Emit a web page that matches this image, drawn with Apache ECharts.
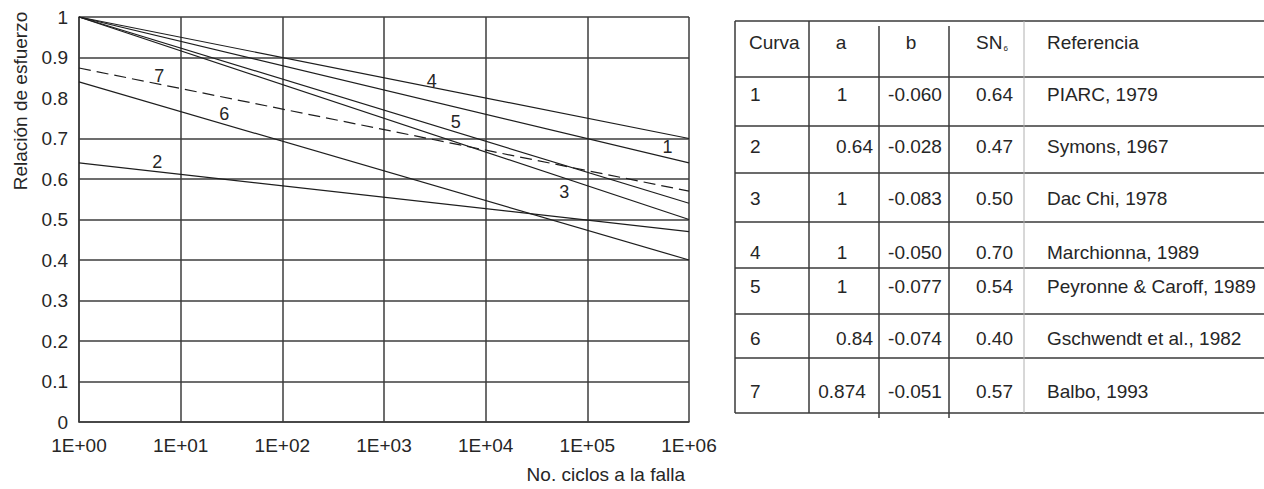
<!DOCTYPE html>
<html>
<head>
<meta charset="utf-8">
<script src="https://cdn.jsdelivr.net/npm/echarts@6/dist/echarts.min.js"></script>
<style>
  html, body { margin: 0; padding: 0; background: #fff; }
  #chart { width: 1264px; height: 489px; }
</style>
</head>
<body>
<div id="chart"></div>
<script>
// Fatigue curves: relación de esfuerzo = a + b·log10(N)
const curveIds = ['1', '2', '3', '4', '5', '6', '7'];
const colA = ['1', '0.64', '1', '1', '1', '0.84', '0.874'];
const colB = ['-0.060', '-0.028', '-0.083', '-0.050', '-0.077', '-0.074', '-0.051'];
const colSN6 = ['0.64', '0.47', '0.50', '0.70', '0.54', '0.40', '0.57'];
const references = [
  'PIARC, 1979', 'Symons, 1967', 'Dac Chi, 1978', 'Marchionna, 1989',
  'Peyronne & Caroff, 1989', 'Gschwendt et al., 1982', 'Balbo, 1993'
];
const cycleRange = [1, 1e6];
const xTickLabels = ['1E+00', '1E+01', '1E+02', '1E+03', '1E+04', '1E+05', '1E+06'];
const yTickLabels = ['0', '0.1', '0.2', '0.3', '0.4', '0.5', '0.6', '0.7', '0.8', '0.9', '1'];

// each curve runs from a (at 1 ciclo) to SN6 (at 1E+06 ciclos)
const startValue = colA.map(Number);
const endValue = colSN6.map(Number);

const FONT = "'Liberation Sans', Arial, sans-serif";
const INK = '#262626';
const GRID = '#3c3c3c';

// where each curve's number tag sits (cycles, relación)
const tagAt = {
  '1': [616000, 0.680],
  '2': [5.9, 0.642],
  '3': [59400, 0.567],
  '4': [2950, 0.843],
  '5': [5080, 0.741],
  '6': [26.8, 0.760],
  '7': [6.15, 0.855]
};

const series = curveIds.map((id, i) => ({
  type: 'line',
  name: id,
  data: [[cycleRange[0], startValue[i]], [cycleRange[1], endValue[i]]],
  symbol: 'none',
  silent: true,
  z: 5,
  lineStyle: {
    color: '#1e1e1e',
    width: 1.2,
    type: id === '7' ? [12, 6] : 'solid'
  },
  markPoint: {
    symbol: 'rect',
    symbolSize: 1,
    silent: true,
    itemStyle: { color: 'rgba(0,0,0,0)' },
    label: {
      show: true,
      position: 'inside',
      formatter: id,
      color: INK,
      fontFamily: FONT,
      fontSize: 18
    },
    data: [{ coord: tagAt[id], name: id }]
  }
}));

// ---- table on the right ----
const colX = [735, 809, 879, 949, 1024, 1264];
const rowY = [21, 77, 126, 173, 222, 268, 314, 358, 413];
const headerY = 42;
const rowTextY = [94, 146, 198, 252, 286, 338, 391];
const aAlign = ['center', 'right', 'center', 'center', 'center', 'right', 'center'];

const graphics = [];
const lineStyleDark = { stroke: '#3a3a3a', lineWidth: 1.5 };
function hLine(y, x1, x2, st) {
  graphics.push({ type: 'line', silent: true, shape: { x1: x1, y1: y, x2: x2, y2: y }, style: st });
}
function vLine(x, y1, y2, st) {
  graphics.push({ type: 'line', silent: true, shape: { x1: x, y1: y1, x2: x, y2: y2 }, style: st });
}
function txt(text, x, y, align, extra) {
  graphics.push({
    type: 'text', silent: true, x: x, y: y,
    style: Object.assign({
      text: text, fill: INK, font: '19px ' + FONT,
      textAlign: align, textVerticalAlign: 'middle'
    }, extra || {})
  });
}

rowY.forEach(y => hLine(y, colX[0], colX[5], lineStyleDark));
vLine(colX[0], rowY[0], rowY[8], lineStyleDark);
vLine(colX[1], rowY[0], rowY[8], lineStyleDark);
vLine(colX[2], 26, 418, lineStyleDark);
vLine(colX[3], 26, 418, lineStyleDark);
vLine(colX[4], rowY[0], rowY[8], { stroke: '#b0b0b0', lineWidth: 1 });

txt('Curva', 749, headerY, 'left');
txt('a', 841, headerY, 'center');
txt('b', 911, headerY, 'center');
graphics.push({
  type: 'text', silent: true, x: 976, y: headerY,
  style: {
    text: 'SN{s|6}', fill: INK, font: '19px ' + FONT,
    textAlign: 'left', textVerticalAlign: 'middle',
    rich: { s: { fontSize: 8, fontFamily: FONT, fill: INK, padding: [12, 0, 0, 1] } }
  }
});
txt('Referencia', 1047, headerY, 'left');

curveIds.forEach((id, i) => {
  const y = rowTextY[i];
  txt(id, 750, y, 'left');
  if (aAlign[i] === 'right') txt(colA[i], 873, y, 'right');
  else txt(colA[i], 842, y, 'center');
  txt(colB[i], 915, y, 'center');
  txt(colSN6[i], 976, y, 'left');
  txt(references[i], 1047, y, 'left');
});

// axis titles
graphics.push({
  type: 'text', silent: true, x: 20, y: 101, rotation: Math.PI / 2,
  style: { text: 'Relación de esfuerzo', fill: INK, font: '19px ' + FONT, textAlign: 'center', textVerticalAlign: 'middle' }
});
graphics.push({
  type: 'text', silent: true, x: 685, y: 474,
  style: { text: 'No. ciclos a la falla', fill: INK, font: '19px ' + FONT, textAlign: 'right', textVerticalAlign: 'middle' }
});

// no grid line at 0.8
const ySplitColors = yTickLabels.map(t => (t === '0.8' ? 'rgba(0,0,0,0)' : GRID));

const chart = echarts.init(document.getElementById('chart'), null, { renderer: 'svg' });
chart.setOption({
  animation: false,
  backgroundColor: '#ffffff',
  grid: { left: 79, right: 575, top: 17, bottom: 67, containLabel: false },
  xAxis: {
    type: 'log',
    logBase: 10,
    min: cycleRange[0],
    max: cycleRange[1],
    axisLine: { show: true, lineStyle: { color: GRID, width: 1.5 } },
    axisTick: { show: false },
    splitLine: { show: true, lineStyle: { color: GRID, width: 1.5 } },
    axisLabel: {
      color: INK, fontFamily: FONT, fontSize: 19, margin: 14,
      formatter: v => xTickLabels[Math.round(Math.log10(v))]
    }
  },
  yAxis: {
    type: 'value',
    min: 0,
    max: 1,
    interval: 0.1,
    axisLine: { show: true, lineStyle: { color: GRID, width: 1.5 } },
    axisTick: { show: false },
    splitLine: { show: true, lineStyle: { color: ySplitColors, width: 1.5 } },
    axisLabel: {
      color: INK, fontFamily: FONT, fontSize: 19, margin: 11,
      formatter: v => yTickLabels[Math.round(v * 10)]
    }
  },
  graphic: graphics,
  series: series
});
</script>
</body>
</html>
